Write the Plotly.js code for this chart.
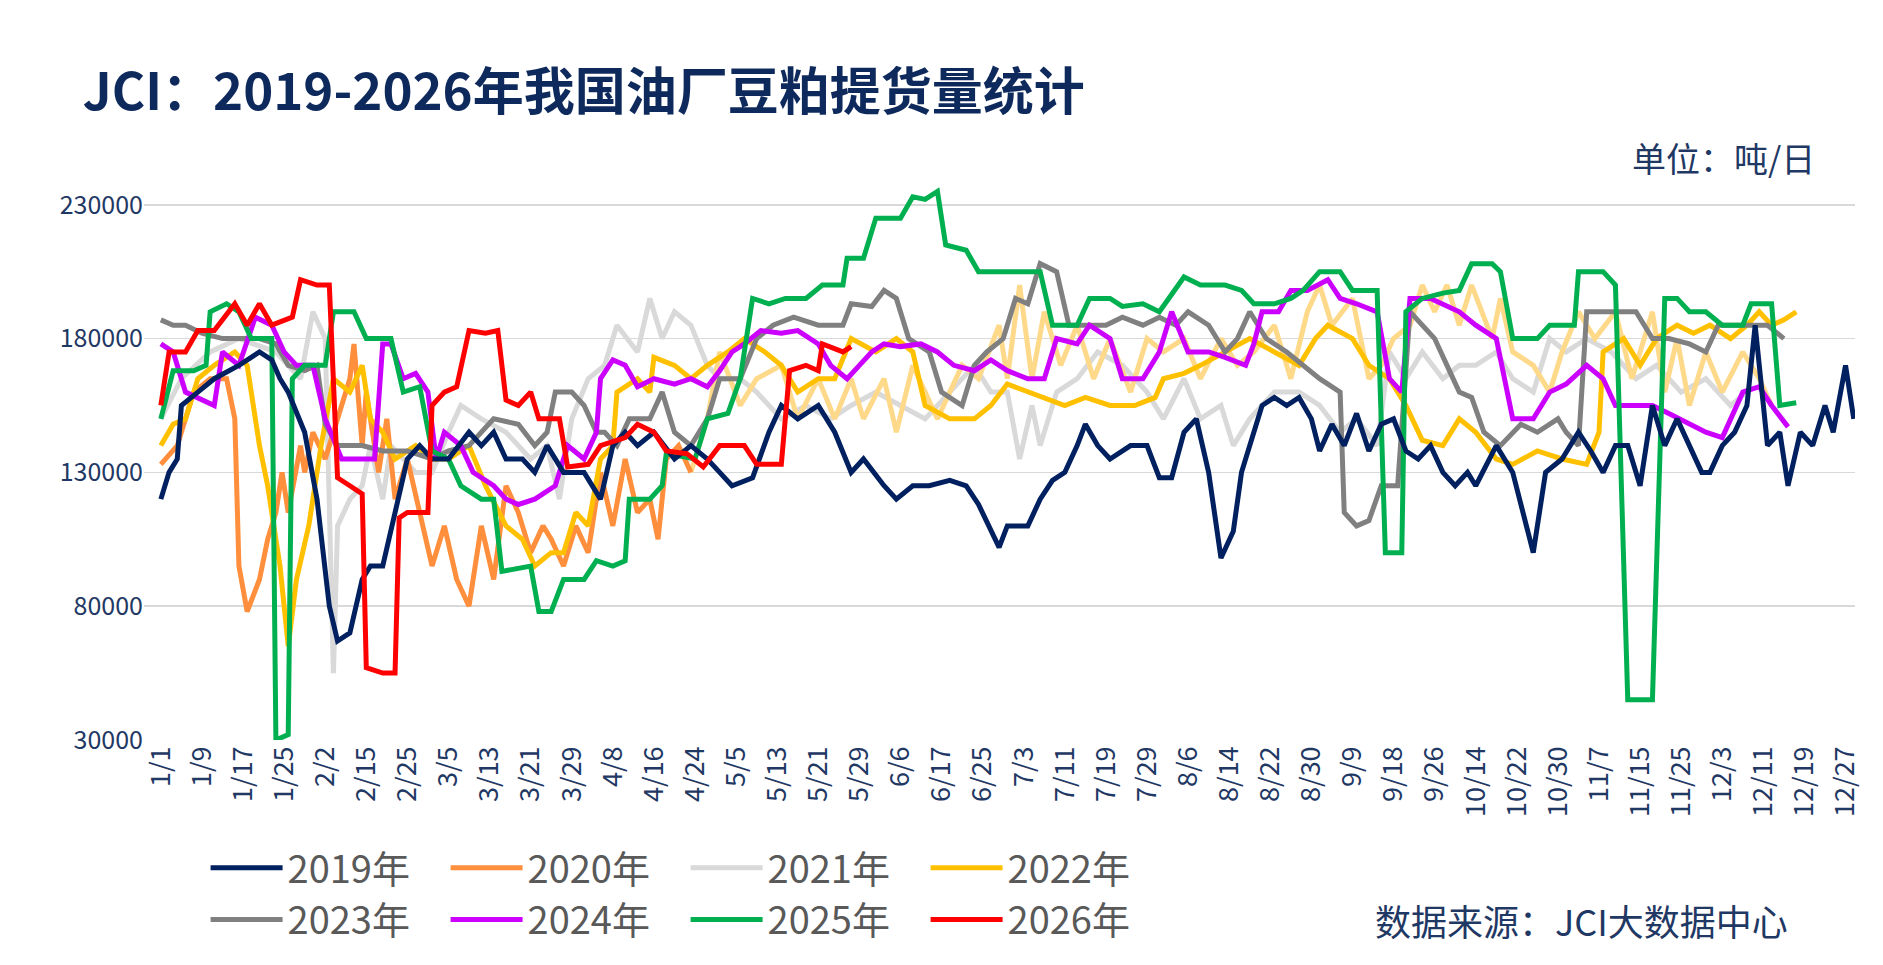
<!DOCTYPE html>
<html><head><meta charset="utf-8">
<script src="https://cdn.plot.ly/plotly-3.0.1.min.js"></script>
<style>html,body{margin:0;padding:0;background:#fff}#c{width:1883px;height:965px}</style>
</head><body><div id="c"></div>
<script>
// x: position in tick units (0 = 1/1, each step = one labelled tick); y: thousand tonnes/day
const tickLabels = ["1/1","1/9","1/17","1/25","2/2","2/15","2/25","3/5","3/13","3/21","3/29","4/8","4/16","4/24","5/5","5/13","5/21","5/29","6/6","6/17","6/25","7/3","7/11","7/19","7/29","8/6","8/14","8/22","8/30","9/9","9/18","9/26","10/14","10/22","10/30","11/7","11/15","11/25","12/3","12/11","12/19","12/27"];

const x2019 = [0,0.2,0.4,0.5,0.9,1.3,1.9,2.4,2.7,2.9,3.1,3.5,3.8,4.1,4.3,4.6,4.9,5.1,5.4,5.7,6.0,6.3,6.6,7.0,7.5,7.8,8.1,8.4,8.8,9.1,9.4,9.8,10.3,10.7,11.0,11.3,11.6,12.0,12.5,12.9,13.3,13.6,13.9,14.4,14.8,15.1,15.5,16.0,16.4,16.8,17.1,17.6,17.9,18.3,18.7,19.2,19.6,19.9,20.4,20.6,21.1,21.4,21.7,22.0,22.3,22.5,22.8,23.1,23.6,24.0,24.3,24.6,24.9,25.2,25.5,25.8,26.1,26.3,26.8,27.1,27.4,27.7,28.0,28.2,28.5,28.8,29.1,29.4,29.7,30.0,30.3,30.6,30.9,31.2,31.5,31.8,32.0,32.5,32.9,33.4,33.7,34.1,34.5,34.8,35.1,35.4,35.7,36.0,36.3,36.6,36.9,37.2,37.5,37.7,38.0,38.3,38.6,38.8,39.1,39.4,39.6,39.9,40.2,40.5,40.7,41.0,41.2];
const y2019 = [120,130,135,155,160,165,170,175,172,165,160,145,120,80,67,70,90,95,95,115,135,140,135,135,145,140,145,135,135,130,140,130,130,120,140,145,140,145,135,140,135,130,125,128,145,155,150,155,145,130,135,125,120,125,125,127,125,118,102,110,110,120,127,130,140,148,140,135,140,140,128,128,145,150,130,98,108,130,155,158,155,158,150,138,148,140,152,138,148,150,138,135,140,130,125,130,125,140,130,100,130,135,145,138,130,140,140,125,155,140,150,140,130,130,140,145,155,185,140,145,125,145,140,155,145,170,150];

const x2020a = [0,0.4,0.8,1.2,1.6,1.8,1.9,2.1,2.4,2.6,2.8,2.95,3.1,3.4,3.5,3.7,4.0,4.3,4.6,4.7,4.9,5.0,5.3,5.5,5.7,6.0,6.3,6.6,6.9,7.2,7.5,7.8,8.1,8.4,8.7,9.0,9.3,9.5,9.8,10.1,10.4,10.7,11.0,11.3,11.6,11.9,12.1,12.3,12.6,12.9];
const y2020a = [133,140,160,165,165,150,95,78,90,105,115,130,115,140,130,145,135,150,165,178,140,160,130,150,120,135,115,95,110,90,80,110,90,125,115,100,110,105,95,110,100,130,110,135,115,120,105,135,140,130];
const x2020b = [12.9,13.3,13.6,14.1,14.5,15.1,15.5,16.0,16.4,16.8,17.1,17.6,17.9,18.3,18.9,19.5,19.9,20.4,20.6,20.9,21.2,21.5,21.9,22.3,22.7,23.1,23.6,24.0,24.4,24.9,25.3,25.8,26.2,26.6,27.1,27.5,27.9,28.2,28.5,29.0,29.4,29.7,30.0,30.4,30.7,31.0,31.3,31.6,31.9,32.4,32.6,32.9,33.4,33.8,34.1,34.5,34.9,35.4,35.8,36.3,36.6,36.9,37.2,37.6,38.0,38.5,38.9,39.2];
const y2020b = [130,150,175,155,165,170,150,165,150,165,150,165,145,170,150,170,165,185,165,200,165,190,170,185,165,180,160,180,175,180,165,180,170,175,185,165,190,200,185,195,165,170,180,185,200,190,200,185,200,180,195,175,170,160,175,190,180,190,165,190,160,180,155,175,160,175,165,155];

const x2021 = [0,0.5,1.2,1.9,2.8,3.4,3.7,4.0,4.2,4.3,4.6,4.9,5.1,5.4,5.6,5.9,6.2,6.6,7.0,7.3,7.8,8.4,9.0,9.4,9.7,10.0,10.4,10.8,11.1,11.6,11.9,12.2,12.5,12.9,13.3,13.6,14.1,14.5,15.1,15.7,16.3,16.8,17.4,18.0,18.6,19.2,19.8,20.2,20.6,20.9,21.2,21.4,21.8,22.3,22.8,23.4,24.0,24.4,24.9,25.3,25.8,26.1,26.5,27.1,27.7,28.2,28.7,29.1,29.6,29.9,30.3,30.7,31.2,31.6,32.0,32.5,32.9,33.4,33.8,34.2,34.7,35.3,35.9,36.4,37.0,37.6,38.2,38.6];
const y2021 = [150,165,175,180,175,165,190,180,55,110,120,125,140,120,140,135,130,130,145,155,150,145,135,140,120,150,165,170,185,175,195,180,190,185,170,165,165,160,150,155,150,155,160,155,150,160,170,160,160,135,155,140,160,165,175,170,160,150,165,150,155,140,150,160,160,155,145,150,140,175,165,175,165,170,170,175,165,160,180,175,180,175,165,170,160,165,155,160];

const x2022 = [0,0.3,0.6,0.9,1.3,1.8,2.1,2.4,2.6,2.9,3.1,3.3,3.6,3.9,4.2,4.6,4.9,5.1,5.4,5.7,6.2,6.6,7.0,7.5,7.9,8.4,8.8,9.1,9.5,9.8,10.1,10.4,10.7,11.0,11.1,11.6,11.9,12.0,12.5,12.9,13.3,13.8,14.2,14.7,15.1,15.5,16.0,16.4,16.8,17.4,17.9,18.3,18.6,19.2,19.8,20.2,20.6,21.1,21.5,22.0,22.5,23.1,23.7,24.2,24.4,24.9,25.3,25.9,26.5,27.1,27.7,28.1,28.4,29.0,29.4,29.9,30.3,30.7,31.2,31.6,32.0,32.5,32.9,33.5,34.1,34.7,35.0,35.1,35.6,36.0,36.4,36.9,37.3,37.7,38.2,38.6,38.9,39.2,39.5,39.8];
const y2022 = [140,148,150,165,170,175,170,140,125,95,65,90,110,140,165,160,170,150,145,135,140,135,135,140,125,110,105,95,100,100,115,110,135,140,160,165,160,173,170,165,170,175,180,175,170,160,165,165,180,175,180,175,155,150,150,155,163,160,158,155,158,155,155,158,165,167,170,175,180,175,170,180,185,180,170,165,155,142,140,150,145,135,133,138,135,133,145,175,180,170,180,185,182,185,180,185,190,185,187,190];

const x2023 = [0,0.3,0.6,1.0,1.5,1.9,2.4,2.8,3.1,3.5,3.8,4.0,4.3,4.9,5.4,6.0,6.6,7.0,7.5,8.1,8.7,9.1,9.4,9.6,10.0,10.3,10.6,10.8,11.1,11.4,11.9,12.2,12.5,12.9,13.3,13.6,14.1,14.5,14.9,15.4,16.0,16.6,16.8,17.3,17.6,17.9,18.2,18.7,19.0,19.5,19.8,20.1,20.5,20.8,21.1,21.4,21.8,22.1,22.5,23.0,23.4,23.9,24.3,24.7,25.0,25.5,25.9,26.2,26.5,26.9,27.4,27.8,28.2,28.7,28.8,29.1,29.4,29.7,30.1,30.4,30.7,31.0,31.3,31.6,31.9,32.2,32.6,33.1,33.5,34.0,34.2,34.5,34.7,35.3,35.9,36.3,36.7,37.2,37.6,37.9,38.3,38.8,39.1,39.5];
const y2023 = [187,185,185,182,180,180,180,178,170,168,170,148,140,140,138,138,135,138,140,150,148,140,145,160,160,155,145,145,140,150,150,160,145,140,150,165,165,180,185,188,185,185,193,192,198,195,180,175,160,155,170,175,180,195,193,208,205,185,185,185,188,185,188,185,190,185,175,180,190,180,175,170,165,160,115,110,112,125,125,190,185,180,170,160,158,145,140,148,145,150,145,140,190,190,190,180,180,178,175,185,185,185,185,180];

const x2024 = [0,0.3,0.6,1.0,1.3,1.5,1.9,2.3,2.7,3.0,3.3,3.7,4.0,4.4,4.9,5.2,5.4,5.6,5.9,6.2,6.5,6.7,6.9,7.3,7.6,8.1,8.4,8.7,9.1,9.6,9.9,10.3,10.6,10.7,11.0,11.3,11.6,12.0,12.5,12.9,13.3,13.6,13.9,14.2,14.6,15.1,15.5,16.0,16.3,16.7,17.0,17.3,17.6,18.0,18.5,18.9,19.3,19.8,20.2,20.6,21.1,21.5,21.8,22.3,22.6,23.1,23.4,23.9,24.3,24.6,25.0,25.5,25.9,26.4,26.6,26.8,27.2,27.5,27.9,28.4,28.7,29.1,29.6,29.9,30.2,30.4,30.9,31.2,31.6,32.0,32.5,32.9,33.4,33.8,34.2,34.7,35.1,35.4,35.9,36.3,36.7,37.2,37.6,38.0,38.5,38.9,39.2,39.6];
const y2024 = [178,175,160,157,155,175,170,188,185,175,170,170,150,135,135,135,178,178,165,167,160,135,145,140,130,125,120,118,120,125,140,135,145,165,172,170,162,165,163,165,162,168,175,178,183,182,183,178,170,165,170,175,178,177,178,175,170,168,172,168,165,165,180,178,185,180,165,165,175,190,175,175,173,170,178,190,190,198,198,202,195,193,190,165,160,195,195,193,190,185,180,150,150,160,163,170,165,155,155,155,152,148,145,143,160,162,155,147];

const x2025 = [0,0.3,0.8,1.1,1.2,1.6,1.9,2.2,2.7,2.8,3.1,3.2,3.5,4.0,4.2,4.7,5.0,5.6,5.9,6.3,6.6,7.0,7.3,7.8,8.1,8.3,9.0,9.2,9.5,9.8,10.3,10.6,11.0,11.3,11.4,11.9,12.2,12.3,13.0,13.3,13.8,14.1,14.4,14.8,15.2,15.7,16.1,16.6,16.7,17.1,17.4,18.0,18.3,18.6,18.9,19.1,19.6,19.9,20.4,20.8,21.4,21.7,22.3,22.6,23.1,23.4,23.9,24.3,24.9,25.3,25.9,26.3,26.6,27.1,27.5,27.8,28.2,28.7,29.0,29.6,29.8,30.2,30.3,30.7,31.2,31.6,31.9,32.4,32.6,32.9,33.5,33.8,34.4,34.5,35.1,35.4,35.7,36.3,36.6,36.9,37.2,37.6,38.0,38.5,38.7,39.2,39.4,39.8];
const y2025 = [150,168,168,170,190,193,190,180,180,30,32,165,170,170,190,190,180,180,160,162,138,135,125,120,120,93,95,78,78,90,90,97,95,97,120,120,125,137,135,150,152,165,195,193,195,195,200,200,210,210,225,225,233,232,235,215,213,205,205,205,205,185,185,195,195,192,193,190,203,200,200,198,193,193,195,198,205,205,198,198,100,100,190,195,197,198,208,208,205,180,180,185,185,205,205,200,45,45,195,195,190,190,185,185,193,193,155,156];

const x2026 = [0,0.2,0.6,0.9,1.3,1.8,2.1,2.4,2.7,3.2,3.4,3.8,4.1,4.3,4.6,4.9,5.0,5.4,5.7,5.8,6.0,6.5,6.6,6.9,7.2,7.5,7.9,8.2,8.4,8.7,9.0,9.2,9.7,9.9,10.4,10.7,11.3,11.6,12.0,12.3,12.8,13.2,13.6,14.2,14.5,15.1,15.3,15.7,16.0,16.1,16.6,16.8];
const y2026 = [155,175,175,183,183,193,185,193,185,188,202,200,200,128,125,122,57,55,55,113,115,115,155,160,162,183,182,183,157,155,160,150,150,132,133,140,143,148,145,138,137,132,140,140,133,133,168,170,168,178,175,177];

const k = v => v.map(a => a * 1000);
function tr(name, xs, ys, color, legend, rank, show) {
  const n = Math.min(xs.length, ys.length);
  return {x: xs.slice(0,n), y: k(ys.slice(0,n)), name, type: 'scatter', mode: 'lines',
    line: {color, width: 5, shape: 'linear'}, legend, legendrank: rank,
    showlegend: show !== false, hoverinfo: 'skip'};
}
const data = [
  tr('2021年', x2021, y2021, '#D9D9D9', 'legend', 3),
  tr('2020年b', x2020b, y2020b, '#FFD98A', 'legend', 2, false),
  tr('2020年', x2020a, y2020a, '#FF8F3C', 'legend', 2),
  tr('2022年', x2022, y2022, '#FFC000', 'legend', 4),
  tr('2023年', x2023, y2023, '#808080', 'legend2', 5),
  tr('2024年', x2024, y2024, '#CC00FF', 'legend2', 6),
  tr('2025年', x2025, y2025, '#00B050', 'legend2', 7),
  tr('2019年', x2019, y2019, '#002060', 'legend', 1),
  tr('2026年', x2026, y2026, '#FF0000', 'legend2', 8)
];
const F = '"Noto Sans CJK SC", "Noto Sans", sans-serif';
const legendBase = {orientation: 'h', font: {family: F, size: 38, color: '#595959'},
  entrywidth: 153, entrywidthmode: 'pixels', itemwidth: 72, x: 0.036, xanchor: 'left',
  yanchor: 'middle', bgcolor: 'rgba(0,0,0,0)', traceorder: 'normal'};
const layout = {
  width: 1883, height: 965,
  margin: {l: 144, r: 28, t: 178, b: 225},
  paper_bgcolor: '#fff', plot_bgcolor: '#fff',
  title: {text: 'JCI：2019-2026年我国油厂豆粕提货量统计', font: {family: F, size: 51, color: '#0E2A5C', weight: 'bold'},
    xref: 'container', yref: 'container', x: 0.044, xanchor: 'left', y: 0.905, yanchor: 'middle'},
  xaxis: {range: [-0.41, 41.23], tickmode: 'array', tickvals: tickLabels.map((_, i) => i), ticktext: tickLabels,
    tickangle: -90, tickfont: {family: F, size: 27, color: '#1F3864'}, showgrid: false, zeroline: false,
    showline: false, ticks: ''},
  yaxis: {range: [30000, 240000], tickvals: [30000, 80000, 130000, 180000, 230000], tickformat: 'd',
    tickfont: {family: F, size: 25, color: '#1F3864'}, gridcolor: '#D9D9D9', gridwidth: 1.5,
    zeroline: false, showline: false, ticks: ''},
  legend: Object.assign({}, legendBase, {y: -0.228}),
  legend2: Object.assign({}, legendBase, {y: -0.32}),
  annotations: [
    {text: '单位：吨/日', xref: 'paper', yref: 'paper', x: 0.978, y: 1.037, xanchor: 'right', yanchor: 'middle',
      showarrow: false, font: {family: F, size: 34, color: '#1F3864'}},
    {text: '数据来源：JCI大数据中心', xref: 'paper', yref: 'paper', x: 0.962, y: -0.32, xanchor: 'right', yanchor: 'middle',
      showarrow: false, font: {family: F, size: 36, color: '#1F3864'}}
  ],
  showlegend: true
};
Plotly.newPlot('c', data, layout, {displayModeBar: false, staticPlot: true});
</script></body></html>
